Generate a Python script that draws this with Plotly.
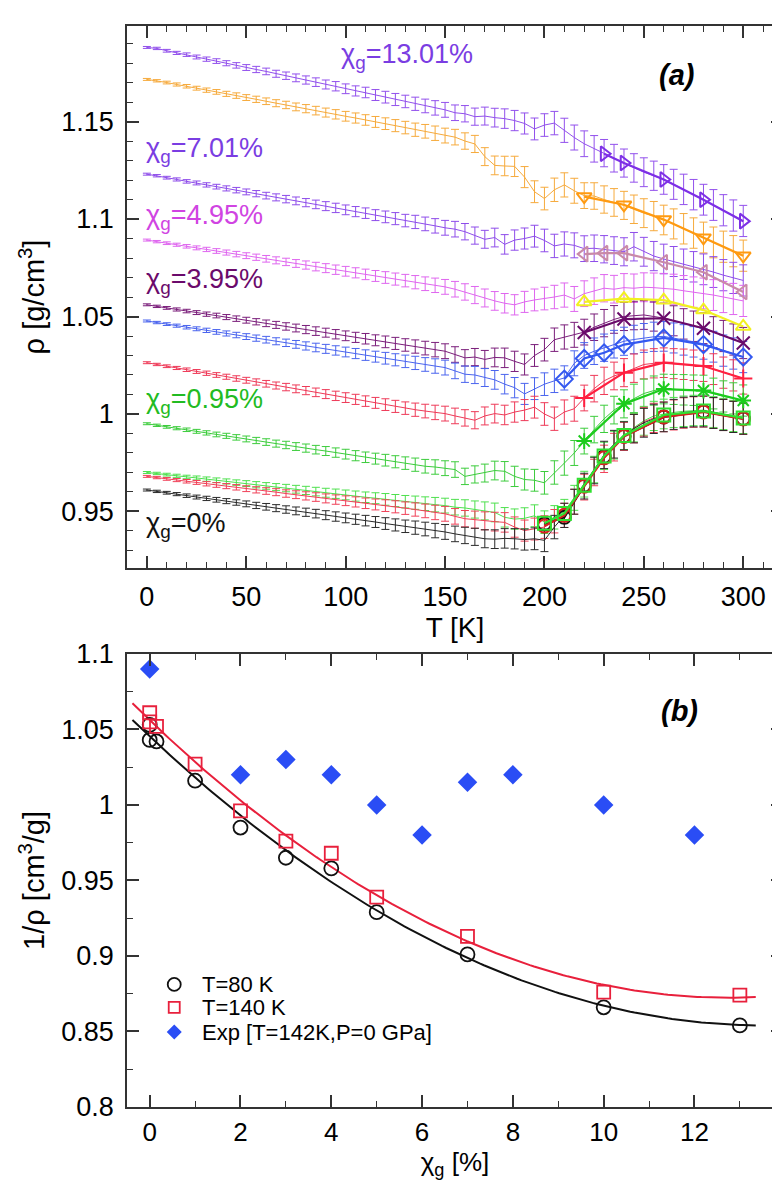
import numpy as np
import plotly.graph_objects as go

# ---------------- Panel (a): density vs temperature ----------------
T = list(range(0, 301, 5))

err_T = [0.0005, 0.0006, 0.0007, 0.0008, 0.0009, 0.0010, 0.0011, 0.0012, 0.0013, 0.0014,
         0.0015, 0.0016, 0.0017, 0.0018, 0.0019, 0.0020, 0.0021, 0.0022, 0.0023, 0.0024,
         0.0025, 0.0026, 0.0027, 0.0028, 0.0030, 0.0031, 0.0032, 0.0034, 0.0035, 0.0037,
         0.0038, 0.0040, 0.0042, 0.0044, 0.0046, 0.0048, 0.0050, 0.0052, 0.0054, 0.0056,
         0.0058, 0.0060, 0.0062, 0.0064, 0.0066, 0.0068, 0.0070, 0.0071, 0.0072, 0.0073,
         0.0074, 0.0075, 0.0076, 0.0077, 0.0078, 0.0078, 0.0079, 0.0079, 0.0080, 0.0080,
         0.0080]

rho_1301 = [1.1880, 1.1875, 1.1863, 1.1852, 1.1843, 1.1831, 1.1820, 1.1810, 1.1799, 1.1788,
            1.1777, 1.1767, 1.1757, 1.1745, 1.1735, 1.1724, 1.1713, 1.1702, 1.1690, 1.1681,
            1.1668, 1.1657, 1.1649, 1.1636, 1.1625, 1.1613, 1.1603, 1.1591, 1.1580, 1.1570,
            1.1560, 1.1545, 1.1540, 1.1525, 1.1528, 1.1520, 1.1515, 1.1505, 1.1490, 1.1462,
            1.1482, 1.1492, 1.1455, 1.1418, 1.1386, 1.1360, 1.1338, 1.1312, 1.1287, 1.1262,
            1.1240, 1.1222, 1.1203, 1.1178, 1.1152, 1.1125, 1.1099, 1.1072, 1.1045, 1.1018,
            1.0990]
rho_orange = [1.1716, 1.1709, 1.1700, 1.1690, 1.1681, 1.1671, 1.1661, 1.1652, 1.1642, 1.1633,
              1.1623, 1.1614, 1.1604, 1.1594, 1.1585, 1.1575, 1.1566, 1.1556, 1.1546, 1.1537,
              1.1527, 1.1518, 1.1508, 1.1498, 1.1489, 1.1479, 1.1469, 1.1458, 1.1450, 1.1440,
              1.1428, 1.1420, 1.1400, 1.1385, 1.1320, 1.1275, 1.1272, 1.1270, 1.1215, 1.1140,
              1.1105, 1.1150, 1.1175, 1.1145, 1.1120, 1.1118, 1.1100, 1.1085, 1.1070, 1.1050,
              1.1030, 1.1015, 1.0995, 1.0975, 1.0950, 1.0928, 1.0905, 1.0880, 1.0858, 1.0835,
              1.0812]
rho_701 = [1.1230, 1.1222, 1.1212, 1.1203, 1.1193, 1.1185, 1.1175, 1.1166, 1.1157, 1.1148,
           1.1139, 1.1130, 1.1120, 1.1111, 1.1102, 1.1093, 1.1084, 1.1075, 1.1066, 1.1057,
           1.1047, 1.1038, 1.1030, 1.1020, 1.1011, 1.1002, 1.0992, 1.0985, 1.0975, 1.0965,
           1.0955, 1.0948, 1.0935, 1.0915, 1.0896, 1.0905, 1.0870, 1.0892, 1.0900, 1.0912,
           1.0890, 1.0862, 1.0872, 1.0865, 1.0848, 1.0850, 1.0845, 1.0838, 1.0832, 1.0858,
           1.0832, 1.0810, 1.0795, 1.0782, 1.0768, 1.0755, 1.0742, 1.0728, 1.0712, 1.0698,
           1.0685]
rho_495 = [1.0892, 1.0884, 1.0876, 1.0868, 1.0860, 1.0852, 1.0844, 1.0836, 1.0828, 1.0820,
           1.0812, 1.0804, 1.0796, 1.0788, 1.0780, 1.0772, 1.0764, 1.0756, 1.0748, 1.0740,
           1.0732, 1.0724, 1.0716, 1.0708, 1.0700, 1.0692, 1.0684, 1.0676, 1.0668, 1.0660,
           1.0652, 1.0640, 1.0626, 1.0610, 1.0595, 1.0580, 1.0568, 1.0560, 1.0575, 1.0585,
           1.0592, 1.0600, 1.0610, 1.0590, 1.0617, 1.0630, 1.0645, 1.0640, 1.0648, 1.0645,
           1.0650, 1.0648, 1.0645, 1.0640, 1.0632, 1.0625, 1.0618, 1.0610, 1.0600, 1.0590,
           1.0580]
rho_395 = [1.0560, 1.0552, 1.0544, 1.0536, 1.0528, 1.0520, 1.0512, 1.0505, 1.0497, 1.0489,
           1.0481, 1.0473, 1.0465, 1.0457, 1.0449, 1.0441, 1.0433, 1.0425, 1.0417, 1.0409,
           1.0401, 1.0393, 1.0386, 1.0378, 1.0370, 1.0362, 1.0354, 1.0346, 1.0338, 1.0330,
           1.0322, 1.0305, 1.0288, 1.0292, 1.0280, 1.0290, 1.0288, 1.0270, 1.0254, 1.0300,
           1.0330, 1.0381, 1.0395, 1.0406, 1.0420, 1.0445, 1.0466, 1.0485, 1.0500, 1.0505,
           1.0508, 1.0500, 1.0492, 1.0478, 1.0462, 1.0450, 1.0440, 1.0420, 1.0400, 1.0382,
           1.0364]
rho_blue = [1.0477, 1.0469, 1.0461, 1.0453, 1.0445, 1.0437, 1.0429, 1.0421, 1.0413, 1.0405,
            1.0397, 1.0389, 1.0381, 1.0373, 1.0365, 1.0357, 1.0349, 1.0341, 1.0334, 1.0326,
            1.0318, 1.0310, 1.0302, 1.0294, 1.0286, 1.0278, 1.0270, 1.0262, 1.0254, 1.0246,
            1.0238, 1.0221, 1.0204, 1.0200, 1.0187, 1.0175, 1.0153, 1.0135, 1.0103, 1.0130,
            1.0153, 1.0170, 1.0185, 1.0260, 1.0300, 1.0322, 1.0340, 1.0358, 1.0373, 1.0382,
            1.0390, 1.0396, 1.0398, 1.0390, 1.0380, 1.0370, 1.0360, 1.0345, 1.0325, 1.0310,
            1.0292]
rho_red = [1.0263, 1.0254, 1.0245, 1.0236, 1.0227, 1.0218, 1.0209, 1.0200, 1.0191, 1.0182,
           1.0173, 1.0164, 1.0155, 1.0146, 1.0138, 1.0129, 1.0120, 1.0111, 1.0102, 1.0093,
           1.0084, 1.0075, 1.0066, 1.0057, 1.0048, 1.0039, 1.0030, 1.0022, 1.0015, 1.0008,
           1.0002, 0.9990, 0.9980, 0.9968, 0.9990, 1.0002, 0.9995, 1.0010, 1.0020, 1.0035,
           1.0000, 0.9976, 1.0010, 1.0027, 1.0082, 1.0130, 1.0170, 1.0195, 1.0212, 1.0235,
           1.0254, 1.0260, 1.0263, 1.0258, 1.0255, 1.0250, 1.0246, 1.0230, 1.0212, 1.0198,
           1.0182]
rho_095 = [0.9950, 0.9942, 0.9934, 0.9927, 0.9919, 0.9911, 0.9903, 0.9895, 0.9888, 0.9880,
           0.9872, 0.9864, 0.9856, 0.9848, 0.9841, 0.9833, 0.9825, 0.9817, 0.9810, 0.9802,
           0.9794, 0.9786, 0.9778, 0.9771, 0.9763, 0.9755, 0.9748, 0.9740, 0.9732, 0.9728,
           0.9722, 0.9715, 0.9680, 0.9690, 0.9697, 0.9710, 0.9706, 0.9680, 0.9664, 0.9660,
           0.9647, 0.9700, 0.9748, 0.9800, 0.9861, 0.9920, 0.9975, 1.0020, 1.0052, 1.0080,
           1.0105, 1.0120, 1.0128, 1.0126, 1.0124, 1.0122, 1.0120, 1.0105, 1.0090, 1.0080,
           1.0069]
rho_green_low = [0.9700, 0.9695, 0.9689, 0.9683, 0.9677, 0.9672, 0.9666, 0.9660, 0.9654, 0.9648,
                 0.9643, 0.9637, 0.9631, 0.9625, 0.9620, 0.9614, 0.9608, 0.9602, 0.9596, 0.9591,
                 0.9585, 0.9579, 0.9573, 0.9568, 0.9562, 0.9556, 0.9550, 0.9545, 0.9540, 0.9535,
                 0.9530, 0.9522, 0.9518, 0.9510, 0.9503, 0.9495, 0.9470, 0.9461, 0.9465, 0.9478,
                 0.9445, 0.9470, 0.9500, 0.9570, 0.9640, 0.9715, 0.9785, 0.9840, 0.9890, 0.9930,
                 0.9965, 0.9990, 1.0000, 1.0008, 1.0014, 1.0018, 1.0020, 1.0010, 1.0000, 0.9990,
                 0.9980]
rho_red_low = [0.9680, 0.9674, 0.9667, 0.9661, 0.9655, 0.9649, 0.9642, 0.9636, 0.9630, 0.9624,
               0.9617, 0.9611, 0.9605, 0.9599, 0.9592, 0.9586, 0.9580, 0.9574, 0.9567, 0.9561,
               0.9555, 0.9549, 0.9542, 0.9536, 0.9530, 0.9524, 0.9517, 0.9510, 0.9503, 0.9495,
               0.9488, 0.9475, 0.9463, 0.9458, 0.9452, 0.9448, 0.9444, 0.9420, 0.9402, 0.9410,
               0.9420, 0.9450, 0.9480, 0.9550, 0.9625, 0.9700, 0.9770, 0.9830, 0.9885, 0.9925,
               0.9960, 0.9980, 0.9985, 0.9995, 1.0005, 1.0010, 1.0012, 1.0005, 0.9995, 0.9985,
               0.9975]
rho_0 = [0.9610, 0.9603, 0.9596, 0.9589, 0.9581, 0.9574, 0.9567, 0.9560, 0.9553, 0.9546,
         0.9539, 0.9531, 0.9524, 0.9517, 0.9510, 0.9503, 0.9496, 0.9489, 0.9481, 0.9474,
         0.9467, 0.9460, 0.9453, 0.9446, 0.9438, 0.9431, 0.9424, 0.9417, 0.9410, 0.9402,
         0.9395, 0.9385, 0.9377, 0.9370, 0.9360, 0.9358, 0.9362, 0.9360, 0.9356, 0.9360,
         0.9352, 0.9420, 0.9480, 0.9550, 0.9630, 0.9710, 0.9790, 0.9845, 0.9888, 0.9925,
         0.9955, 0.9975, 0.9985, 0.9998, 1.0008, 1.0012, 1.0013, 1.0005, 0.9995, 0.9985,
         0.9976]

# marker (high-T) series
T_tr = [230, 240, 260, 280, 300]
rho_tr = [1.1335, 1.1287, 1.1203, 1.1099, 1.0989]
T_td = [220, 240, 260, 280, 300]
rho_td = [1.1115, 1.1073, 1.0997, 1.0904, 1.0811]
T_tl = [220, 230, 240, 260, 280, 300]
rho_tl = [1.0820, 1.0825, 1.0825, 1.0778, 1.0727, 1.0626]
T_tu = [220, 240, 260, 280, 300]
rho_tu = [1.0575, 1.0592, 1.0584, 1.0533, 1.0449]
T_x = [220, 240, 260, 280, 300]
rho_x = [1.0418, 1.0487, 1.0491, 1.0440, 1.0364]
T_dia = [210, 220, 230, 240, 260, 280, 300]
rho_dia = [1.0179, 1.0285, 1.0314, 1.0356, 1.0390, 1.0356, 1.0292]
T_plus = [220, 240, 260, 280, 300]
rho_plus = [1.0082, 1.0212, 1.0263, 1.0246, 1.0182]
T_star = [220, 240, 260, 280, 300]
rho_star = [0.9861, 1.0052, 1.0128, 1.0120, 1.0069]
T_low = [200, 210, 220, 230, 240, 260, 280, 300]
rho_sq = [0.9440, 0.9490, 0.9635, 0.9785, 0.9890, 0.9995, 1.0015, 0.9980]
rho_circ_red = [0.9425, 0.9480, 0.9630, 0.9775, 0.9885, 0.9985, 1.0010, 0.9975]
rho_circ_blk = [0.9436, 0.9470, 0.9634, 0.9782, 0.9887, 0.9985, 1.0013, 0.9976]

# ---------------- Panel (b): 1/rho vs chi_g ----------------
chi_sim = [0, 0, 0.15, 1, 2, 3, 4, 5, 7, 10, 13]
inv_rho_80 = [1.053, 1.043, 1.042, 1.016, 0.985, 0.965, 0.958, 0.929, 0.901, 0.866, 0.854]
inv_rho_140 = [1.061, 1.055, 1.052, 1.027, 0.996, 0.976, 0.968, 0.939, 0.913, 0.876, 0.874]
chi_exp = [0, 2, 3, 4, 5, 6, 7, 8, 10, 12]
inv_rho_exp = [1.09, 1.02, 1.03, 1.02, 1.00, 0.98, 1.015, 1.02, 1.00, 0.98]

FONT = "Liberation Sans, Arial, sans-serif"
AX = "#333333"

fig = go.Figure()

thin_series = [
    (rho_1301, "#9250ec", "χg=13.01%"),
    (rho_orange, "#f6aa3c", "orange"),
    (rho_701, "#8e4cea", "χg=7.01%"),
    (rho_495, "#df66ef", "χg=4.95%"),
    (rho_395, "#7a1d7a", "χg=3.95%"),
    (rho_blue, "#4a64ee", "blue"),
    (rho_red, "#ee3a58", "red"),
    (rho_095, "#3ccc3c", "χg=0.95%"),
    (rho_green_low, "#4ee04e", "green low"),
    (rho_red_low, "#f04058", "red low"),
    (rho_0, "#2a2a2a", "χg=0%"),
]
for ys, col, nm in thin_series:
    fig.add_trace(go.Scatter(
        x=T, y=ys, mode="lines", name=nm, showlegend=False,
        line=dict(color=col, width=1),
        error_y=dict(type="data", array=err_T, color=col, thickness=1, width=4),
        xaxis="x", yaxis="y"))

marker_series = [
    (T_tr, rho_tr, "#7d2fe6", "triangle-right-open"),
    (T_td, rho_td, "#ff9a10", "triangle-down-open"),
    (T_tl, rho_tl, "#c98aa8", "triangle-left-open"),
    (T_tu, rho_tu, "#f2f020", "triangle-up-open"),
    (T_x, rho_x, "#6a0a6a", "x-thin-open"),
    (T_dia, rho_dia, "#3358f0", "diamond-open"),
    (T_plus, rho_plus, "#ff2040", "cross-thin-open"),
    (T_star, rho_star, "#1ccc1c", "asterisk-open"),
    (T_low, rho_circ_blk, "#111111", "circle-open"),
    (T_low, rho_circ_red, "#d82020", "circle-open"),
    (T_low, rho_sq, "#30e030", "square-open"),
]
for xs, ys, col, sym in marker_series:
    fig.add_trace(go.Scatter(
        x=xs, y=ys, mode="lines+markers", showlegend=False,
        line=dict(color=col, width=2.2),
        marker=dict(symbol=sym, size=13, color=col, line=dict(width=2, color=col)),
        xaxis="x", yaxis="y"))

# panel (b)
xfit = np.linspace(-0.38, 13.35, 150)
c80 = np.polyfit(chi_sim, inv_rho_80, 2)
c140 = np.polyfit(chi_sim, inv_rho_140, 2)
fig.add_trace(go.Scatter(x=xfit, y=np.polyval(c80, xfit), mode="lines", showlegend=False,
                         line=dict(color="#111111", width=2), xaxis="x2", yaxis="y2"))
fig.add_trace(go.Scatter(x=xfit, y=np.polyval(c140, xfit), mode="lines", showlegend=False,
                         line=dict(color="#e8203c", width=2), xaxis="x2", yaxis="y2"))
fig.add_trace(go.Scatter(x=chi_sim, y=inv_rho_80, mode="markers", name="T=80 K", showlegend=False,
                         marker=dict(symbol="circle-open", size=14, color="#111111", line=dict(width=1.8)),
                         xaxis="x2", yaxis="y2"))
fig.add_trace(go.Scatter(x=chi_sim, y=inv_rho_140, mode="markers", name="T=140 K", showlegend=False,
                         marker=dict(symbol="square-open", size=13, color="#e8203c", line=dict(width=1.8)),
                         xaxis="x2", yaxis="y2"))
fig.add_trace(go.Scatter(x=chi_exp, y=inv_rho_exp, mode="markers", name="Exp [T=142K,P=0 GPa]",
                         showlegend=False,
                         marker=dict(symbol="diamond", size=15, color="#2a4df5"),
                         xaxis="x2", yaxis="y2"))

axis_common = dict(showline=True, linecolor=AX, linewidth=1.5, mirror="ticks",
                   ticks="inside", ticklen=12, tickwidth=1.5, tickcolor=AX,
                   showgrid=False, zeroline=False,
                   tickfont=dict(family=FONT, size=27, color="black"))

fig.update_layout(
    width=780, height=1180,
    margin=dict(l=119, r=3, t=4, b=81),
    paper_bgcolor="white", plot_bgcolor="white",
    font=dict(family=FONT, color="black"),
    showlegend=False,
    xaxis=dict(axis_common, domain=[0, 1], anchor="y", range=[-10, 320],
               tick0=0, dtick=50, ticklabelstandoff=4,
               minor=dict(ticks="inside", ticklen=6, tickwidth=1.2, tickcolor=AX, dtick=10),
               title=dict(text="T [K]", font=dict(size=28), standoff=0)),
    yaxis=dict(axis_common, domain=[0.4986, 1], anchor="x", range=[0.921, 1.199],
               tick0=0, dtick=0.05, ticklabelstandoff=6,
               minor=dict(ticks="inside", ticklen=6, tickwidth=1.2, tickcolor=AX, dtick=0.01),
               title=dict(text="ρ [g/cm<sup>3</sup>]", font=dict(size=29), standoff=8)),
    xaxis2=dict(axis_common, domain=[0, 1], anchor="y2", range=[-0.5, 13.95],
                tick0=0, dtick=2, ticklabelstandoff=1,
                tickfont=dict(family=FONT, size=26, color="black"),
                minor=dict(ticks="inside", ticklen=6, tickwidth=1.2, tickcolor=AX, dtick=1),
                title=dict(text="χ<sub>g</sub> [%]", font=dict(size=26), standoff=0)),
    yaxis2=dict(axis_common, domain=[0, 0.4192], anchor="x2", range=[0.8, 1.1],
                tick0=0, dtick=0.05, ticklabelstandoff=6,
                minor=dict(ticks="inside", ticklen=6, tickwidth=1.2, tickcolor=AX, dtick=0.025),
                title=dict(text="1/ρ [cm<sup>3</sup>/g]", font=dict(size=29), standoff=8)),
)

labels = [
    ("χ<sub>g</sub>=13.01%", 96.5, 1.1835, "#7a3de2"),
    ("χ<sub>g</sub>=7.01%", -1.4, 1.1352, "#7a3de2"),
    ("χ<sub>g</sub>=4.95%", -1.4, 1.1010, "#d044e2"),
    ("χ<sub>g</sub>=3.95%", -1.4, 1.0680, "#6b0a6b"),
    ("χ<sub>g</sub>=0.95%", -1.4, 1.0065, "#22bb22"),
    ("χ<sub>g</sub>=0%", -1.4, 0.9432, "#111111"),
]
for txt, xx, yy, col in labels:
    fig.add_annotation(text=txt, x=xx, y=yy, xref="x", yref="y", xanchor="left", yanchor="middle",
                       showarrow=False, font=dict(family=FONT, size=27, color=col))

fig.add_annotation(text="<b><i>(a)</i></b>", x=266.4, y=1.174, xref="x", yref="y",
                   showarrow=False, font=dict(family=FONT, size=29, color="black"))
fig.add_annotation(text="<b><i>(b)</i></b>", x=11.67, y=1.062, xref="x2", yref="y2",
                   showarrow=False, font=dict(family=FONT, size=29, color="black"))

# hand-made legend for panel (b)
leg_x = 0.072
leg_rows = [0.2706, 0.2199, 0.1654]
leg_text = ["T=80 K", "T=140 K", "Exp [T=142K,P=0 GPa]"]
fig.add_shape(type="circle", xref="x2 domain", yref="y2 domain", xsizemode="pixel", ysizemode="pixel",
              xanchor=leg_x, yanchor=leg_rows[0], x0=-6.5, x1=6.5, y0=-6.5, y1=6.5,
              line=dict(color="#111111", width=1.8))
fig.add_shape(type="rect", xref="x2 domain", yref="y2 domain", xsizemode="pixel", ysizemode="pixel",
              xanchor=leg_x, yanchor=leg_rows[1], x0=-5.5, x1=5.5, y0=-5.5, y1=5.5,
              line=dict(color="#e8203c", width=1.8))
fig.add_shape(type="path", xref="x2 domain", yref="y2 domain", xsizemode="pixel", ysizemode="pixel",
              xanchor=leg_x, yanchor=leg_rows[2], path="M 0 7.5 L 7.5 0 L 0 -7.5 L -7.5 0 Z",
              fillcolor="#2a4df5", line=dict(color="#2a4df5", width=0))
for txt, yy in zip(leg_text, leg_rows):
    fig.add_annotation(text=txt, x=0.112, y=yy, xref="x2 domain", yref="y2 domain",
                       xanchor="left", yanchor="middle", showarrow=False,
                       font=dict(family=FONT, size=22, color="black"))

fig.write_html("out.html")
